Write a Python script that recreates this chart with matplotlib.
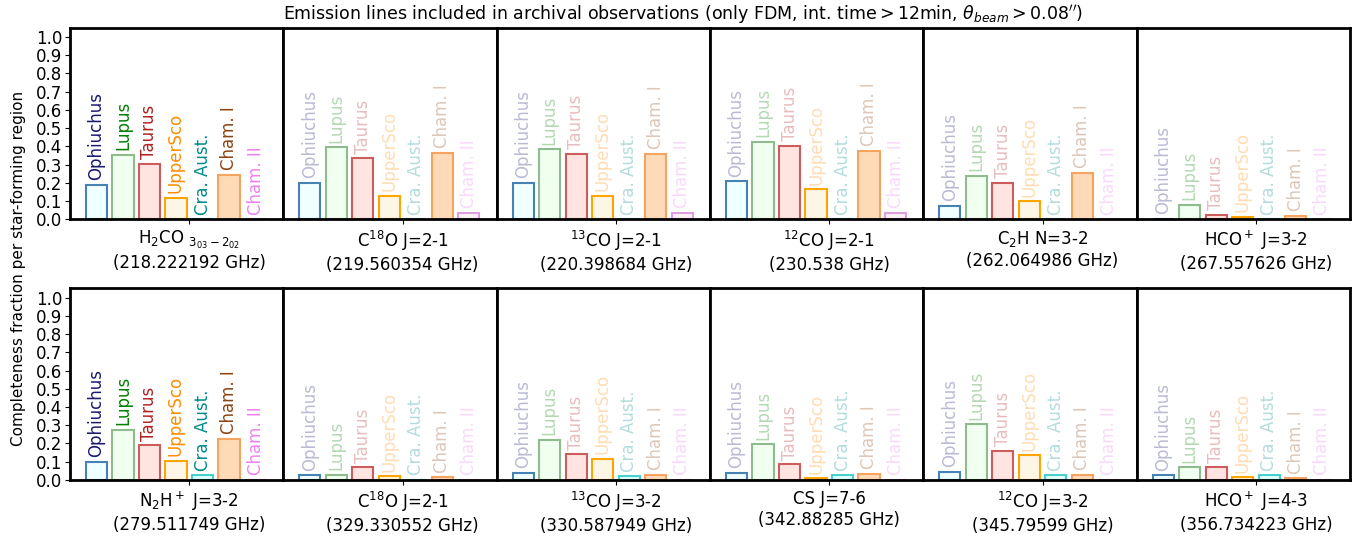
import matplotlib.pyplot as plt

regions = ['Ophiuchus', 'Lupus', 'Taurus', 'UpperSco', 'Cra. Aust.', 'Cham. I', 'Cham. II']
text_colors = ['midnightblue', 'green', 'firebrick', 'darkorange', 'darkcyan', 'saddlebrown', 'violet']
edge_colors = ['steelblue', 'darkseagreen', 'indianred', 'orange', 'mediumturquoise', 'sandybrown', 'plum']
face_colors = ['azure', 'honeydew', 'mistyrose', 'oldlace', 'lightcyan', 'peachpuff', 'lavenderblush']

line_labels = [
    'H$_2$CO $_{3_{03}-2_{02}}$\n(218.222192 GHz)',
    'C$^{18}$O J=2-1\n(219.560354 GHz)',
    '$^{13}$CO J=2-1\n(220.398684 GHz)',
    '$^{12}$CO J=2-1\n(230.538 GHz)',
    'C$_2$H N=3-2\n(262.064986 GHz)',
    'HCO$^+$ J=3-2\n(267.557626 GHz)',
    'N$_2$H$^+$ J=3-2\n(279.511749 GHz)',
    'C$^{18}$O J=2-1\n(329.330552 GHz)',
    '$^{13}$CO J=3-2\n(330.587949 GHz)',
    'CS J=7-6\n(342.88285 GHz)',
    '$^{12}$CO J=3-2\n(345.79599 GHz)',
    'HCO$^+$ J=4-3\n(356.734223 GHz)',
]

# completeness fraction per region, one list per emission line
h2co_218 = [0.19, 0.355, 0.305, 0.12, 0.0, 0.245, 0.0]
c18o_21 = [0.20, 0.395, 0.335, 0.13, 0.0, 0.365, 0.035]
co13_21 = [0.20, 0.385, 0.36, 0.13, 0.0, 0.36, 0.035]
co12_21 = [0.21, 0.425, 0.405, 0.165, 0.0, 0.375, 0.035]
c2h_32 = [0.075, 0.24, 0.20, 0.10, 0.0, 0.255, 0.0]
hcop_32 = [0.005, 0.08, 0.025, 0.015, 0.0, 0.02, 0.0]
n2hp_32 = [0.10, 0.275, 0.19, 0.105, 0.025, 0.225, 0.0]
c18o_32 = [0.025, 0.03, 0.07, 0.02, 0.0, 0.015, 0.0]
co13_32 = [0.04, 0.22, 0.14, 0.115, 0.02, 0.03, 0.0]
cs_76 = [0.04, 0.195, 0.085, 0.01, 0.025, 0.035, 0.0]
co12_32 = [0.045, 0.305, 0.16, 0.135, 0.025, 0.03, 0.0]
hcop_43 = [0.025, 0.07, 0.07, 0.015, 0.025, 0.01, 0.0]

fractions = [h2co_218, c18o_21, co13_21, co12_21, c2h_32, hcop_32,
             n2hp_32, c18o_32, co13_32, cs_76, co12_32, hcop_43]

fig, axes = plt.subplots(2, 6, figsize=(13.67, 5.36), dpi=100, sharey=True)
fig.subplots_adjust(left=0.0512, right=0.9876, top=0.948, bottom=0.1045,
                    wspace=0, hspace=0.36)

xpos = list(range(len(regions)))
for i, ax in enumerate(axes.flat):
    vals = fractions[i]
    ax.bar(xpos, vals, width=0.8, color=face_colors, edgecolor=edge_colors, linewidth=1.5)
    # full-colour labels only in the first panel of each row
    alpha = 1.0 if i % 6 == 0 else 0.3
    for x, v, name, c in zip(xpos, vals, regions, text_colors):
        ax.text(x, v + 0.025, name, rotation=90, ha='center', va='bottom',
                color=c, alpha=alpha, fontsize=12)
    ax.set_xlim(-1, 7.05)
    ax.set_ylim(0, 1.05)
    ax.set_xticks([len(regions) / 2])
    ax.set_xticklabels([line_labels[i]], fontsize=12)
    for s in ax.spines.values():
        s.set_linewidth(2)
    if i % 6 == 0:
        ax.set_yticks([0.1 * k for k in range(11)])
        ax.set_yticklabels(['%.1f' % (0.1 * k) for k in range(11)])
        ax.tick_params(axis='y', labelsize=12, pad=2)
    else:
        ax.tick_params(axis='y', left=False, labelleft=False)

fig.supylabel('Completeness fraction per star-forming region', fontsize=11, x=0.008)
fig.suptitle(r'Emission lines included in archival observations (only FDM, int. time$>$12min, $\theta_{beam}>0.08^{\prime\prime}$)',
             fontsize=12.5, y=0.995)

fig.savefig('out.png', dpi=100)
